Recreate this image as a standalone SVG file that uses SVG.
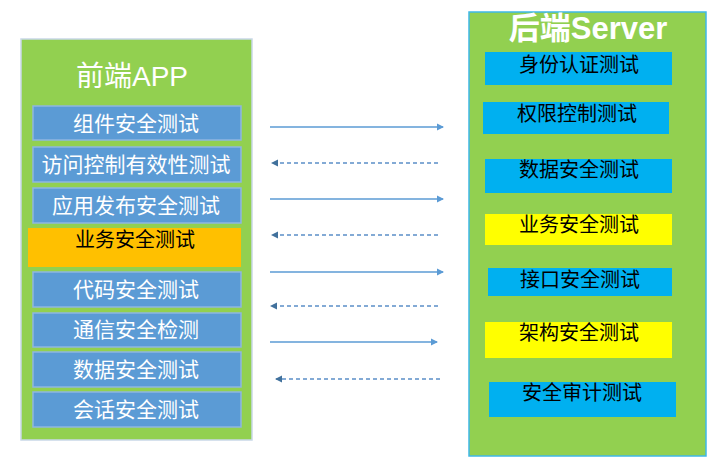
<svg xmlns="http://www.w3.org/2000/svg" width="720" height="468" viewBox="0 0 720 468">
<defs>
<style>
.panel{fill:#92D050;}
.lb{fill:#5B9BD5;stroke:#8FB6E0;stroke-width:1.5;}
.lt{font-family:"Liberation Sans","Noto Sans CJK SC",sans-serif;font-size:21px;fill:#FFFFFF;text-anchor:middle;dominant-baseline:central;}
.rt{font-family:"Liberation Sans","Noto Sans CJK SC",sans-serif;font-size:20px;fill:#000000;text-anchor:middle;dominant-baseline:central;}
.cyan{fill:#00B0F0;}
.yel{fill:#FFFF00;}
.solid{stroke:#5B9BD5;stroke-width:1.6;fill:none;}
.dash{stroke:#5B8FC7;stroke-width:1.6;stroke-dasharray:4 3;fill:none;}
</style>
<marker id="ah" markerWidth="8" markerHeight="8" refX="6" refY="4" orient="auto" markerUnits="userSpaceOnUse">
<path d="M0,0.5 L7,4 L0,7.5 z" fill="#5B9BD5"/>
</marker>
<marker id="ah2" markerWidth="8" markerHeight="8" refX="6" refY="4" orient="auto" markerUnits="userSpaceOnUse">
<path d="M0,0.5 L7,4 L0,7.5 z" fill="#41719C"/>
</marker>
</defs>
<rect width="720" height="468" fill="#FFFFFF"/>

<g id="frontend">
<rect class="panel" x="21" y="39" width="231" height="401" stroke="#C9D8E8" stroke-width="1.5"/>
<text x="132" y="76" font-family="'Liberation Sans','Noto Sans CJK SC',sans-serif" font-size="28" fill="#FFFFFF" text-anchor="middle" dominant-baseline="central">前端APP</text>
</g>
<g id="f1"><rect class="lb" x="33" y="106" width="208" height="34"/><text class="lt" x="136" y="123">组件安全测试</text></g>
<g id="f2"><rect class="lb" x="33" y="147" width="208" height="35"/><text class="lt" x="136" y="164">访问控制有效性测试</text></g>
<g id="f3"><rect class="lb" x="33" y="188" width="208" height="35"/><text class="lt" x="136" y="205">应用发布安全测试</text></g>
<g id="f4"><rect x="28" y="228" width="213" height="39" fill="#FFC000"/><text class="rt" x="135" y="240" font-size="21">业务安全测试</text></g>
<g id="f5"><rect class="lb" x="33" y="272" width="208" height="35"/><text class="lt" x="136" y="289">代码安全测试</text></g>
<g id="f6"><rect class="lb" x="33" y="313" width="208" height="34"/><text class="lt" x="136" y="329">通信安全检测</text></g>
<g id="f7"><rect class="lb" x="33" y="352" width="208" height="35"/><text class="lt" x="136" y="369">数据安全测试</text></g>
<g id="f8"><rect class="lb" x="33" y="392" width="208" height="35"/><text class="lt" x="136" y="409">会话安全测试</text></g>

<g id="backend">
<rect class="panel" x="469" y="12" width="237" height="444" stroke="#3FB8E8" stroke-width="1.5"/>
<text x="588" y="28" font-family="'Liberation Sans','Noto Sans CJK SC',sans-serif" font-size="31" font-weight="bold" fill="#FFFFFF" text-anchor="middle" dominant-baseline="central">后端Server</text>
</g>
<g id="b1"><rect class="cyan" x="485" y="52" width="187" height="33"/><text class="rt" x="579" y="65">身份认证测试</text></g>
<g id="b2"><rect class="cyan" x="483" y="102" width="186" height="32"/><text class="rt" x="577" y="114">权限控制测试</text></g>
<g id="b3"><rect class="cyan" x="485" y="159" width="187" height="34"/><text class="rt" x="579" y="170">数据安全测试</text></g>
<g id="b4"><rect class="yel" x="485" y="214" width="187" height="31"/><text class="rt" x="579" y="225">业务安全测试</text></g>
<g id="b5"><rect class="cyan" x="488" y="268" width="184" height="28"/><text class="rt" x="580" y="280">接口安全测试</text></g>
<g id="b6"><rect class="yel" x="485" y="322" width="187" height="36"/><text class="rt" x="579" y="333">架构安全测试</text></g>
<g id="b7"><rect class="cyan" x="489" y="382" width="187" height="35"/><text class="rt" x="582" y="393">安全审计测试</text></g>

<g id="connectors">
<line class="solid" x1="270" y1="127" x2="443" y2="127" marker-end="url(#ah)"/>
<line class="dash" x1="438" y1="163" x2="272" y2="163" marker-end="url(#ah2)"/>
<line class="solid" x1="270" y1="199" x2="443" y2="199" marker-end="url(#ah)"/>
<line class="dash" x1="438" y1="235" x2="272" y2="235" marker-end="url(#ah2)"/>
<line class="solid" x1="270" y1="272" x2="443" y2="272" marker-end="url(#ah)"/>
<line class="dash" x1="438" y1="306" x2="271" y2="306" marker-end="url(#ah2)"/>
<line class="solid" x1="270" y1="342" x2="437" y2="342" marker-end="url(#ah)"/>
<line class="dash" x1="440" y1="379" x2="276" y2="379" marker-end="url(#ah2)"/>
</g>
</svg>
